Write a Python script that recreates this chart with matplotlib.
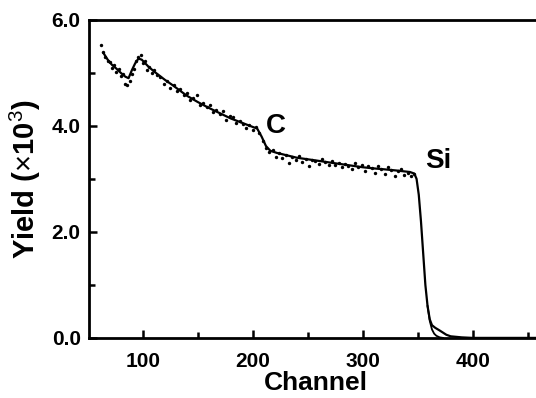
import matplotlib
matplotlib.use("Agg")
import matplotlib.pyplot as plt
from matplotlib.ticker import MultipleLocator, FormatStrFormatter

plt.rcParams['font.family'] = ['Liberation Sans', 'DejaVu Sans']
plt.rcParams['mathtext.fontset'] = 'custom'
plt.rcParams['mathtext.rm'] = 'Liberation Sans'

# fitted spectrum (solid line)
fit_ch = [64, 68, 72, 76, 80, 84, 87, 90, 93, 96, 99, 105, 110, 120, 127, 140,
          150, 160, 170, 180, 190, 200, 204, 208, 212, 216, 222, 230, 240, 250,
          260, 273, 280, 290, 300, 309, 320, 330, 343, 347, 349, 351, 353, 355,
          357, 359, 361, 363, 366, 370, 376, 380, 390, 400, 420, 465]
fit_y = [5.38, 5.25, 5.15, 5.08, 5.00, 4.93, 4.90, 5.05, 5.18, 5.27, 5.25,
         5.12, 5.03, 4.87, 4.77, 4.57, 4.45, 4.34, 4.24, 4.14, 4.06, 3.98,
         3.95, 3.80, 3.62, 3.53, 3.49, 3.45, 3.40, 3.37, 3.34, 3.30, 3.28,
         3.25, 3.22, 3.20, 3.18, 3.16, 3.13, 3.10, 3.00, 2.70, 2.20, 1.60,
         1.00, 0.60, 0.35, 0.24, 0.19, 0.14, 0.06, 0.03, 0.01, 0.0, 0.0, 0.0]

# second simulation branch near the Si edge
alt_ch = [359, 361, 363, 365, 367, 370, 373]
alt_y = [0.60, 0.32, 0.16, 0.08, 0.04, 0.01, 0.0]

# measured points
dot_ch = [62, 64, 66, 68, 70, 72, 74, 76, 78, 80, 82, 84, 86, 88, 90, 92, 94,
          96, 98, 100, 102, 104, 106, 108, 110, 113, 116, 119, 122, 125, 128,
          131, 134, 137, 140, 143, 146, 149, 152, 155, 158, 161, 164, 167, 170,
          173, 176, 179, 182, 185, 188, 191, 194, 197, 200, 203, 206, 209, 212,
          215, 218, 221, 224, 227, 230, 233, 236, 239, 242, 245, 248, 251, 254,
          257, 260, 263, 266, 269, 272, 275, 278, 281, 284, 287, 290, 293, 296,
          299, 302, 305, 308, 311, 314, 317, 320, 323, 326, 329, 332, 335, 338,
          341, 344, 347]
dot_y = [5.52, 5.40, 5.30, 5.22, 5.20, 5.10, 5.14, 5.02, 5.08, 4.95, 4.98,
         4.80, 4.78, 4.84, 4.98, 5.08, 5.22, 5.30, 5.33, 5.18, 5.22, 5.05,
         5.12, 5.00, 5.06, 4.96, 4.92, 4.80, 4.85, 4.72, 4.78, 4.66, 4.70,
         4.58, 4.62, 4.48, 4.52, 4.58, 4.40, 4.44, 4.36, 4.40, 4.26, 4.30,
         4.22, 4.28, 4.12, 4.18, 4.16, 4.05, 4.10, 4.04, 3.96, 4.02, 3.92,
         3.98, 3.86, 3.72, 3.58, 3.50, 3.55, 3.42, 3.48, 3.40, 3.46, 3.30,
         3.42, 3.36, 3.44, 3.32, 3.38, 3.24, 3.36, 3.34, 3.28, 3.38, 3.32,
         3.27, 3.33, 3.26, 3.30, 3.22, 3.29, 3.24, 3.18, 3.30, 3.22, 3.26,
         3.14, 3.24, 3.20, 3.12, 3.25, 3.18, 3.10, 3.22, 3.16, 3.06, 3.14,
         3.18, 3.08, 3.12, 3.06, 3.10]

fig = plt.figure(figsize=(5.36, 3.98), dpi=100)
# right edge of the frame runs past the figure, as in the scanned original
ax = fig.add_axes([0.166, 0.151, 0.845, 0.799])

ax.scatter(dot_ch, dot_y, s=6, color='black', linewidths=0, zorder=3)
ax.plot(fit_ch, fit_y, color='black', linewidth=1.6, zorder=2)
ax.plot(alt_ch, alt_y, color='black', linewidth=1.3, zorder=2)

ax.text(221, 4.0, 'C', fontsize=20, fontweight='bold', ha='center', va='center')
ax.text(369, 3.34, 'Si', fontsize=20, fontweight='bold', ha='center', va='center')

ax.set_xlim(51, 463)
ax.set_ylim(0, 6.0)
ax.xaxis.set_major_locator(MultipleLocator(100))
ax.xaxis.set_minor_locator(MultipleLocator(50))
ax.yaxis.set_major_locator(MultipleLocator(2.0))
ax.yaxis.set_minor_locator(MultipleLocator(1.0))
ax.yaxis.set_major_formatter(FormatStrFormatter('%.1f'))

ax.tick_params(which='both', direction='in', top=False, right=False,
               width=1.8, labelsize=15)
ax.tick_params(which='major', length=6)
ax.tick_params(axis='x', which='major', pad=10)
ax.tick_params(axis='y', which='major', pad=6)
ax.tick_params(which='minor', length=4)
for lab in ax.get_xticklabels() + ax.get_yticklabels():
    lab.set_fontweight('bold')
for sp in ax.spines.values():
    sp.set_linewidth(2)

ax.set_xlabel('Channel', fontsize=19, fontweight='bold', labelpad=0)
ax.set_ylabel('Yield ($\\times$10$^{3}$)', fontsize=21, fontweight='bold', labelpad=6)

fig.savefig('out.png', dpi=100)
